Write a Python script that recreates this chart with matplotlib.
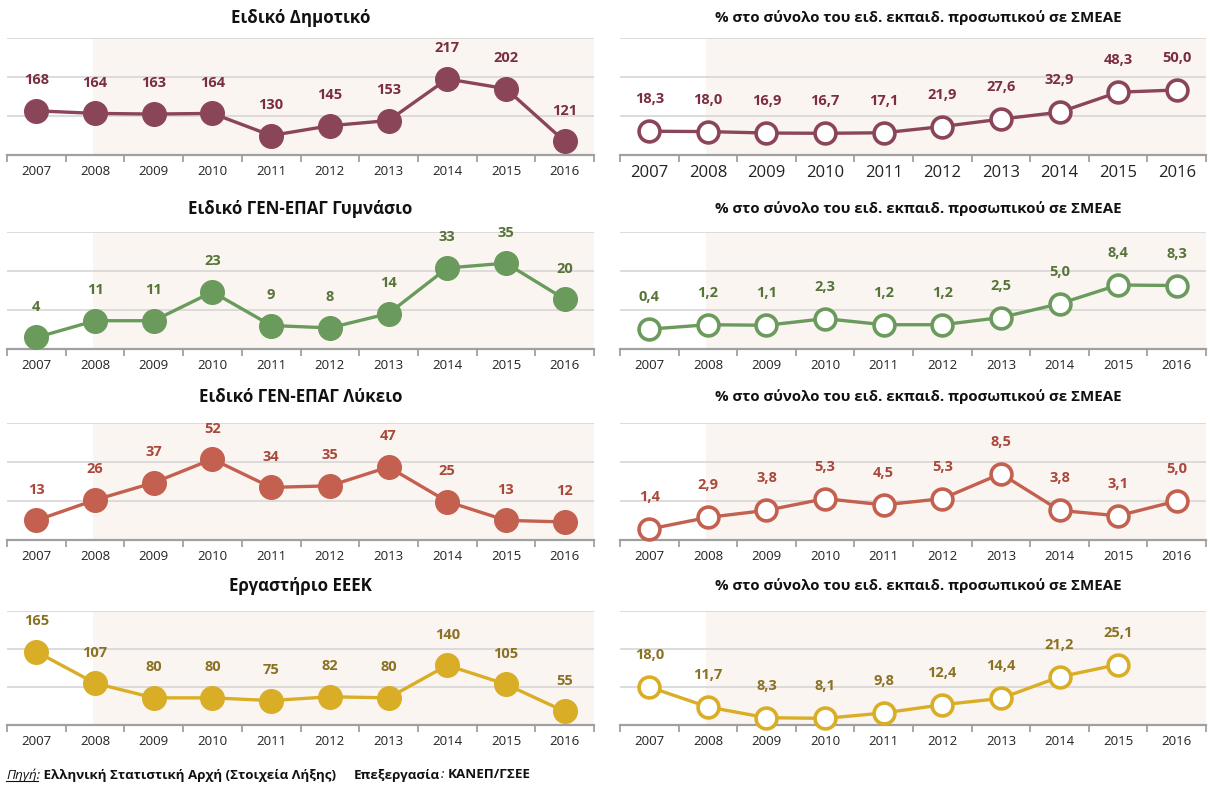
import numpy as np
import matplotlib
matplotlib.use("Agg")
import matplotlib.pyplot as plt
from matplotlib.lines import Line2D

plt.rcParams['font.family'] = ['Open Sans', 'DejaVu Sans']

years = ['2007', '2008', '2009', '2010', '2011', '2012', '2013', '2014', '2015', '2016']

# αριθμός εκπαιδευτικών ανά τύπο σχολικής μονάδας
dimotiko = [168, 164, 163, 164, 130, 145, 153, 217, 202, 121]
gymnasio = [4, 11, 11, 23, 9, 8, 14, 33, 35, 20]
lykeio = [13, 26, 37, 52, 34, 35, 47, 25, 13, 12]
eeek = [165, 107, 80, 80, 75, 82, 80, 140, 105, 55]

# % στο σύνολο του ειδικού εκπαιδευτικού προσωπικού
dimotiko_pct = [18.3, 18.0, 16.9, 16.7, 17.1, 21.9, 27.6, 32.9, 48.3, 50.0]
gymnasio_pct = [0.4, 1.2, 1.1, 2.3, 1.2, 1.2, 2.5, 5.0, 8.4, 8.3]
lykeio_pct = [1.4, 2.9, 3.8, 5.3, 4.5, 5.3, 8.5, 3.8, 3.1, 5.0]
eeek_pct = [18.0, 11.7, 8.3, 8.1, 9.8, 12.4, 14.4, 21.2, 25.1, np.nan]

titles = ['Ειδικό Δημοτικό', 'Ειδικό ΓΕΝ-ΕΠΑΓ Γυμνάσιο',
          'Ειδικό ΓΕΝ-ΕΠΑΓ Λύκειο', 'Εργαστήριο ΕΕΕΚ']
pct_title = '% στο σύνολο του ειδ. εκπαιδ. προσωπικού σε ΣΜΕΑΕ'

line_colors = ['#8B4558', '#6A9A5C', '#C3604F', '#D9AE26']
text_colors = ['#7A2E40', '#56743A', '#A9483B', '#8A7124']

left_ylims = [(100, 280), (-0.8, 48), (0.5, 75), (30, 240)]
right_ylims = [(0, 90), (-3.2, 18), (0, 15), (6, 42)]

W, H = 1216, 787
fig = plt.figure(figsize=(W / 100, H / 100), dpi=100)
fig.patch.set_facecolor('white')

row_px = [(38, 155), (232, 349), (423, 540), (611, 725)]
title_px = [18, 209, 397, 586]
col_px = [(7, 594), (620, 1206)]


def make_axes(col, row):
    x0, x1 = col_px[col]
    top, bot = row_px[row]
    return fig.add_axes([x0 / W, 1 - bot / H, (x1 - x0) / W, (bot - top) / H])


def style_axes(ax, ylim, tick_size):
    x = np.arange(len(years))
    ax.set_xlim(-0.5, len(years) - 0.5)
    ax.set_ylim(*ylim)
    ax.set_facecolor('none')
    ax.axvspan(0.97, len(years) - 0.5, color='#FBF5F1', zorder=0, lw=0)
    ax.set_yticks(np.linspace(ylim[0], ylim[1], 4))
    ax.yaxis.grid(True, color='#D6D6D6', lw=1.2, zorder=1)
    ax.tick_params(axis='y', left=False, labelleft=False)
    for s in ['top', 'left', 'right']:
        ax.spines[s].set_visible(False)
    ax.spines['bottom'].set_color('#A0A0A0')
    ax.spines['bottom'].set_linewidth(1.6)
    ax.set_xticks(x)
    ax.set_xticklabels(years, fontsize=tick_size, color='#222222')
    ax.tick_params(axis='x', which='major', length=0, pad=7)
    ax.set_xticks(np.arange(-0.5, len(years)), minor=True)
    ax.tick_params(axis='x', which='minor', length=5, width=1.3, color='#A0A0A0')
    ax.set_axisbelow(True)


left_data = [dimotiko, gymnasio, lykeio, eeek]
right_data = [dimotiko_pct, gymnasio_pct, lykeio_pct, eeek_pct]

for i in range(4):
    # αριστερά: πλήθος
    ax = make_axes(0, i)
    style_axes(ax, left_ylims[i], 9.5)
    ax.plot(range(len(years)), left_data[i], color=line_colors[i], lw=2.4,
            marker='o', ms=17, mfc=line_colors[i], mec=line_colors[i], zorder=3,
            clip_on=False)
    for k, v in enumerate(left_data[i]):
        ax.annotate(f'{v:d}', (k, v), xytext=(0, 22), textcoords='offset points',
                    ha='center', va='center', fontsize=10.5, fontweight='bold',
                    color=text_colors[i])
    x0, x1 = col_px[0]
    fig.text((x0 + x1) / 2 / W, 1 - title_px[i] / H, titles[i], ha='center',
             va='center', fontsize=12.2, fontweight='bold', color='#111111')

    # δεξιά: ποσοστό
    ax = make_axes(1, i)
    style_axes(ax, right_ylims[i], 12 if i == 0 else 9.5)
    ax.plot(range(len(years)), right_data[i], color=line_colors[i], lw=2.4,
            marker='o', ms=15, mfc='white', mec=line_colors[i], mew=2.6, zorder=3,
            clip_on=False)
    for k, v in enumerate(right_data[i]):
        if np.isnan(v):
            continue
        ax.annotate(f'{v:.1f}'.replace('.', ','), (k, v), xytext=(0, 23),
                    textcoords='offset points', ha='center', va='center',
                    fontsize=10.5, fontweight='bold', color=text_colors[i])
    x0, x1 = col_px[1]
    fig.text((x0 + x1) / 2 / W + 0.004, 1 - title_px[i] / H, pct_title, ha='center',
             va='center', fontsize=10.8, fontweight='bold', color='#111111')

# πηγή στο κάτω μέρος
fig.canvas.draw()
renderer = fig.canvas.get_renderer()
y_foot = 1 - 775 / H
parts = [('Πηγή:', 'italic', 'normal', True, 0),
         (' Ελληνική Στατιστική Αρχή (Στοιχεία Λήξης)', 'normal', 'bold', False, 0),
         ('Επεξεργασία', 'normal', 'bold', False, 18),
         (':', 'italic', 'normal', False, 0),
         ('ΚΑΝΕΠ/ΓΣΕΕ', 'normal', 'bold', False, 4)]
x_px = 6
for txt, style, weight, underline, gap in parts:
    x_px += gap
    t = fig.text(x_px / W, y_foot, txt, ha='left', va='center', fontsize=9.6,
                 fontstyle=style, fontweight=weight, color='#111111')
    bb = t.get_window_extent(renderer)
    if underline:
        fig.add_artist(Line2D([bb.x0 / W, (bb.x1 - 2) / W],
                              [(bb.y0 + 1) / H, (bb.y0 + 1) / H],
                              color='#111111', lw=0.8))
    x_px = bb.x1

fig.savefig('out.png', dpi=100)
